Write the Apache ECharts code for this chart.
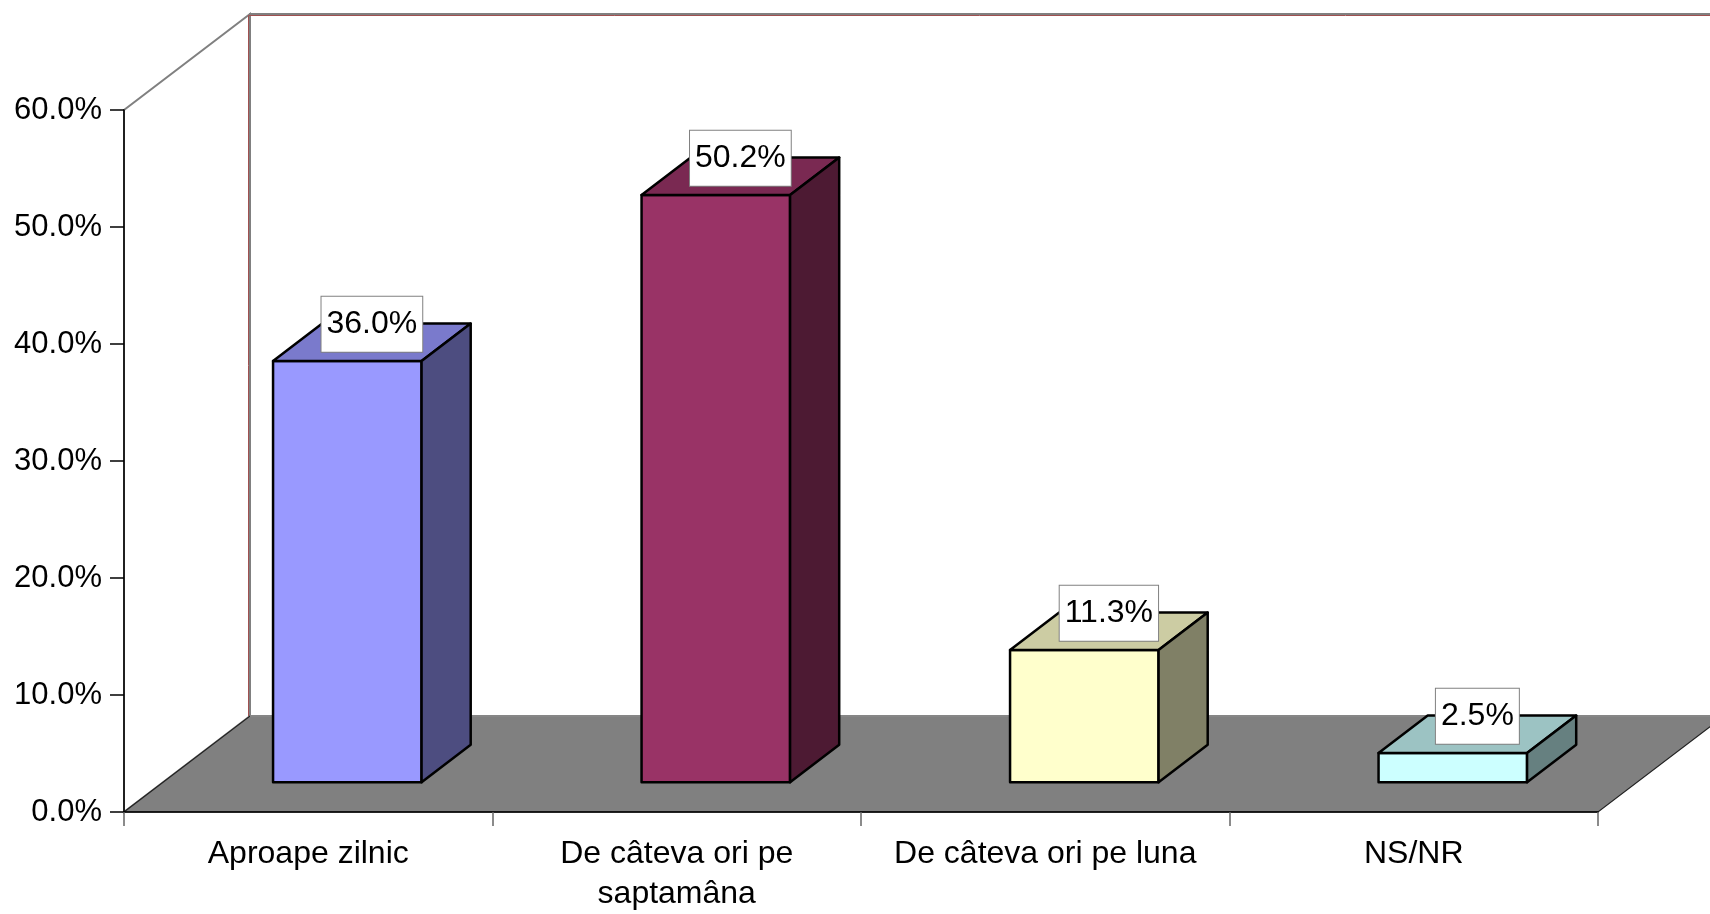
<!DOCTYPE html>
<html>
<head>
    <meta charset="utf-8">
    <title>3D bar</title>
    <script src="https://cdn.jsdelivr.net/npm/echarts@6/dist/echarts.min.js"></script>
    <style>
        html, body { margin: 0; padding: 0; background: #fff; }
        #main { width: 1710px; height: 914px; }
    </style>
</head>
<body>
<div id="main"></div>
<script type="text/javascript">
    // data
    var categories = ['Aproape zilnic', 'De câteva ori pe\nsaptamâna', 'De câteva ori pe luna', 'NS/NR'];
    var values = [0.360, 0.502, 0.113, 0.025];
    var yMin = 0, yMax = 0.6, yStep = 0.1;

    // look
    var FONT = "'Liberation Sans', Arial, sans-serif";
    var faceColors = ['#9999FF', '#993366', '#FFFFCC', '#CCFFFF'];
    var topColors = ['#7A7ACC', '#7A2952', '#CCCCA3', '#9CC3C3'];
    var sideColors = ['#4D4D80', '#4D1A33', '#808066', '#668080'];
    var DX = 126, DY = -96;      // depth projection of the floor
    var BAR_W = 0.403;           // front width as part of a category
    var D0 = 0.31, D1 = 0.70;    // bar depth range inside the floor

    var chart = echarts.init(document.getElementById('main'));

    function renderFrame(params, api) {
        var c = params.coordSys;
        var x = c.x, y = c.y, w = c.width, h = c.height;
        var gray = '#808080';
        return {
            type: 'group',
            children: [
                {
                    type: 'polygon',
                    shape: {points: [[x, y + h], [x, y], [x + DX, y + DY], [x + DX, y + h + DY]]},
                    style: {fill: '#fff', stroke: gray, lineWidth: 2}
                },
                {
                    type: 'rect',
                    shape: {x: x + DX, y: y + DY, width: w + 40, height: h},
                    style: {fill: '#fff', stroke: gray, lineWidth: 2}
                },
                {
                    type: 'polyline',
                    shape: {points: [[x + DX - 1.5, y + h + DY], [x + DX - 1.5, y + DY + 1.5], [x + w + DX + 40, y + DY + 1.5]]},
                    style: {fill: null, stroke: '#A05050', lineWidth: 1}
                },
                {
                    type: 'polygon',
                    shape: {points: [[x, y + h], [x + w, y + h], [x + w + DX, y + h + DY], [x + DX, y + h + DY]]},
                    style: {fill: '#808080', stroke: '#222', lineWidth: 1.2}
                },
                {
                    type: 'line',
                    shape: {x1: x + DX, y1: y + h + DY, x2: x + w + DX + 40, y2: y + h + DY},
                    style: {stroke: '#999', lineWidth: 1.5}
                }
            ]
        };
    }

    function renderBar(params, api) {
        var i = api.value(0);
        var v = api.value(1);
        var base = api.coord([i, 0]);
        var top = api.coord([i, v]);
        var cw = api.size([1, 0])[0];
        var w = cw * BAR_W;
        var fx = base[0] + D0 * DX - w / 2;
        var by = base[1] + D0 * DY;
        var ty = top[1] + D0 * DY;
        var ddx = (D1 - D0) * DX, ddy = (D1 - D0) * DY;
        var edge = {stroke: '#000', lineWidth: 2.5, lineJoin: 'round'};
        return {
            type: 'group',
            children: [
                {
                    type: 'rect',
                    shape: {x: fx, y: ty, width: w, height: by - ty},
                    style: Object.assign({fill: faceColors[i]}, edge)
                },
                {
                    type: 'polygon',
                    shape: {points: [[fx, ty], [fx + w, ty], [fx + w + ddx, ty + ddy], [fx + ddx, ty + ddy]]},
                    style: Object.assign({fill: topColors[i]}, edge)
                },
                {
                    type: 'polygon',
                    shape: {points: [[fx + w, ty], [fx + w + ddx, ty + ddy], [fx + w + ddx, by + ddy], [fx + w, by]]},
                    style: Object.assign({fill: sideColors[i]}, edge)
                },
                {
                    type: 'text',
                    style: {
                        text: (v * 100).toFixed(1) + '%',
                        x: fx + w / 2 + ddx / 2,
                        y: ty + ddy / 2 - 18,
                        align: 'center',
                        verticalAlign: 'middle',
                        font: '32px ' + FONT,
                        fill: '#000',
                        backgroundColor: '#fff',
                        borderColor: '#808080',
                        borderWidth: 1,
                        padding: [12, 5, 11, 5]
                    }
                }
            ]
        };
    }

    var option = {
        animation: false,
        grid: {left: 124, right: 112, top: 110, bottom: 96, containLabel: false},
        xAxis: {
            type: 'category',
            data: categories,
            z: 5,
            axisLine: {lineStyle: {color: '#000', width: 1.5}},
            axisTick: {show: true, length: 14, lineStyle: {color: '#666', width: 1.5}},
            axisLabel: {
                color: '#000', fontSize: 32, fontFamily: FONT,
                margin: 22, lineHeight: 40, interval: 0
            },
            splitLine: {show: false}
        },
        yAxis: {
            type: 'value',
            min: yMin, max: yMax, interval: yStep,
            z: 5,
            axisLine: {show: true, lineStyle: {color: '#000', width: 1.5}},
            axisTick: {show: true, length: 14, lineStyle: {color: '#000', width: 1.5}},
            axisLabel: {
                color: '#000', fontSize: 31, fontFamily: FONT, margin: 22,
                formatter: function (val) { return (val * 100).toFixed(1) + '%'; }
            },
            splitLine: {show: false}
        },
        series: [
            {
                type: 'custom',
                z: 1,
                silent: true,
                renderItem: renderFrame,
                data: [[0, 0]]
            },
            {
                type: 'custom',
                z: 3,
                renderItem: renderBar,
                data: values.map(function (v, i) { return [i, v]; })
            }
        ]
    };
    chart.setOption(option);
    window.onresize = function () {
        chart.resize();
    };
</script>
</body>
</html>
